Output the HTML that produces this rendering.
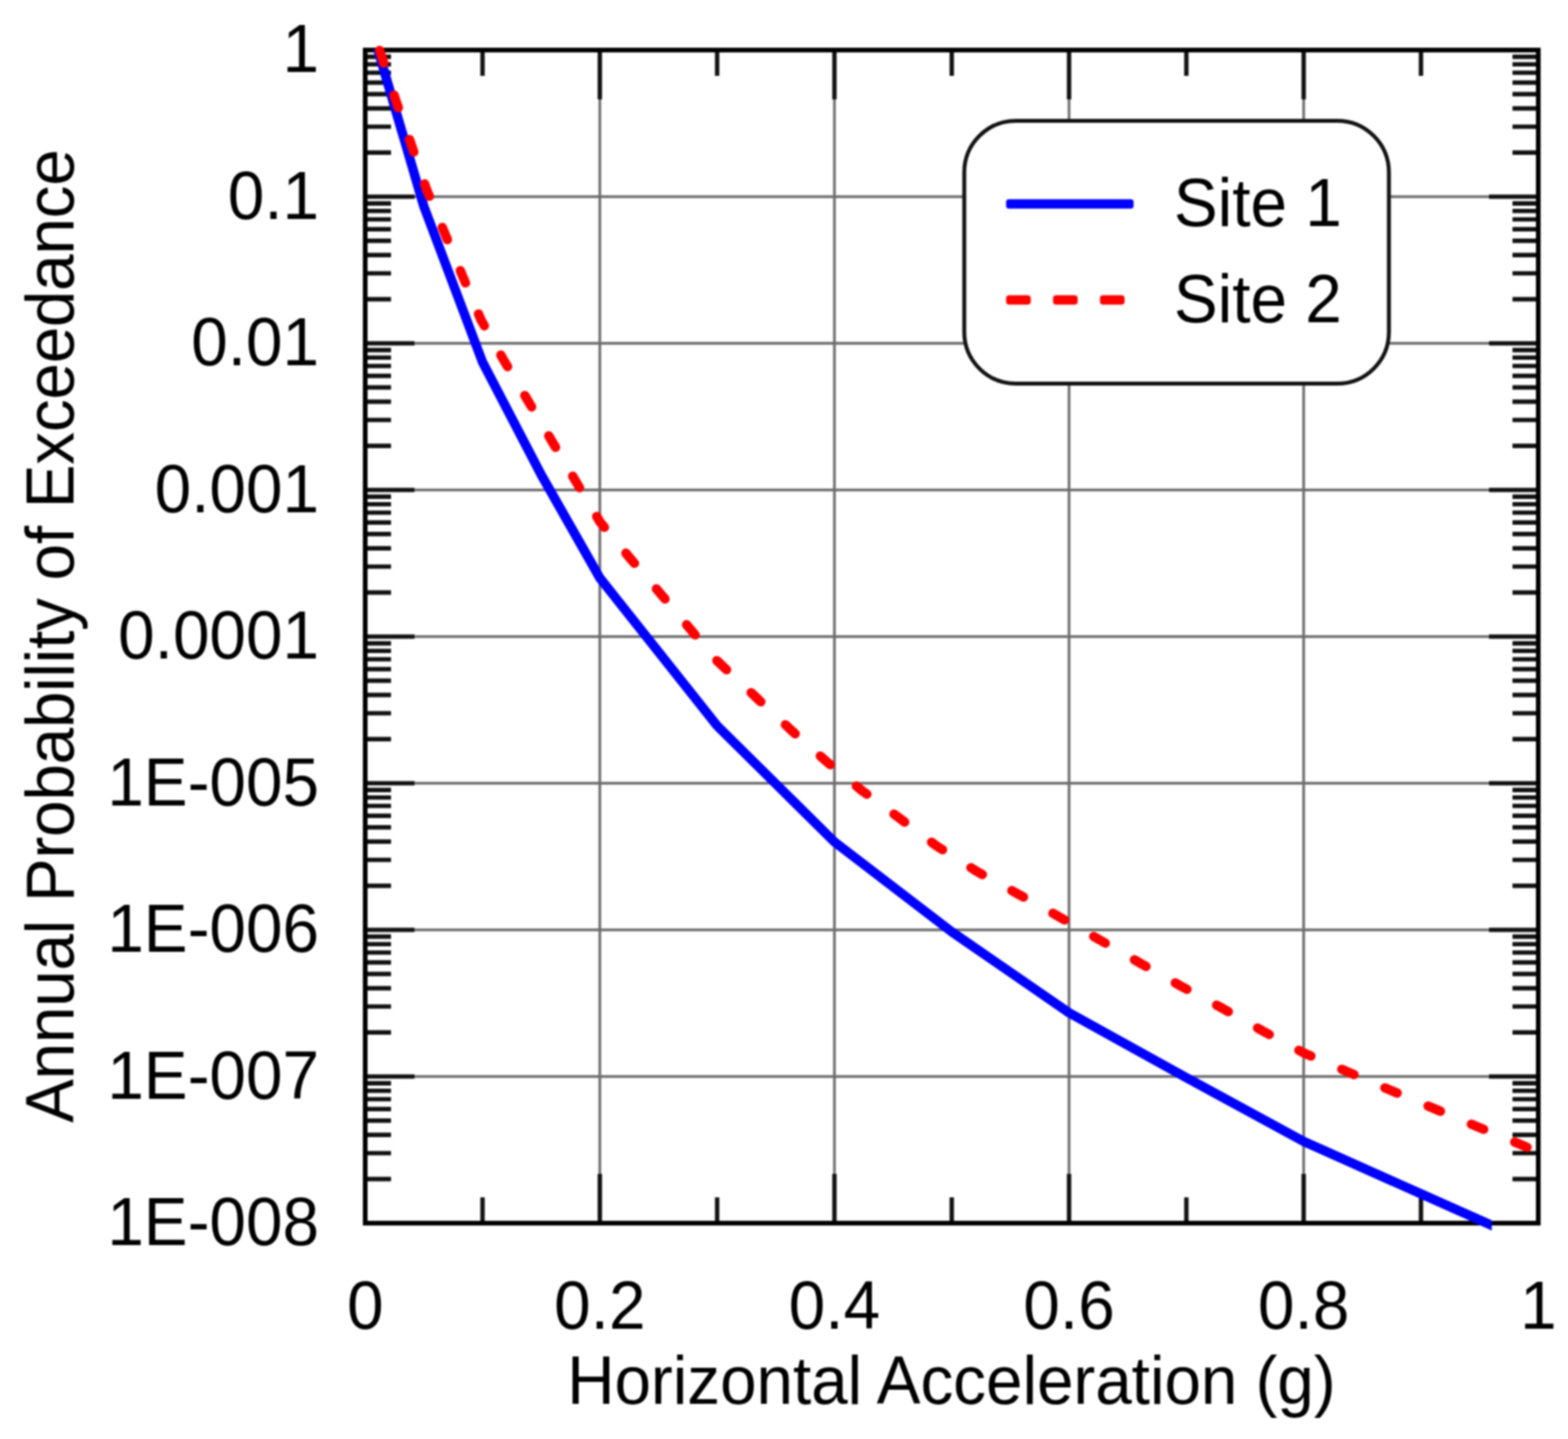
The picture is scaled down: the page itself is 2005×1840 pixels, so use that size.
<!DOCTYPE html>
<html lang="en">
<head>
<meta charset="utf-8">
<title>Annual Probability of Exceedance vs Horizontal Acceleration</title>
<style>
html,body{margin:0;padding:0;background:#fff;}
body{width:2005px;height:1840px;overflow:hidden;}
svg{display:block;}
text{font-family:"Liberation Sans",Arial,Helvetica,sans-serif;font-size:84px;fill:#000;}
.grid line{stroke:#6c6c6c;stroke-width:3.4;}
.tick line{stroke:#111;stroke-width:5.6;}
</style>
</head>
<body>
<svg width="2005" height="1840" viewBox="0 0 2005 1840">
<defs><filter id="soft" filterUnits="userSpaceOnUse" x="0" y="0" width="2005" height="1840" color-interpolation-filters="sRGB"><feGaussianBlur stdDeviation="0.9"/></filter></defs>
<rect x="0" y="0" width="2005" height="1840" fill="#fff"/>
<g filter="url(#soft)">
<rect x="0" y="0" width="2005" height="1840" fill="#fff"/>

<g class="grid">
<line x1="767.0" y1="64.0" x2="767.0" y2="1564.0"/>
<line x1="1067.0" y1="64.0" x2="1067.0" y2="1564.0"/>
<line x1="1367.0" y1="64.0" x2="1367.0" y2="1564.0"/>
<line x1="1667.0" y1="64.0" x2="1667.0" y2="1564.0"/>
<line x1="467.0" y1="251.5" x2="1967.0" y2="251.5"/>
<line x1="467.0" y1="439.0" x2="1967.0" y2="439.0"/>
<line x1="467.0" y1="626.5" x2="1967.0" y2="626.5"/>
<line x1="467.0" y1="814.0" x2="1967.0" y2="814.0"/>
<line x1="467.0" y1="1001.5" x2="1967.0" y2="1001.5"/>
<line x1="467.0" y1="1189.0" x2="1967.0" y2="1189.0"/>
<line x1="467.0" y1="1376.5" x2="1967.0" y2="1376.5"/>
</g>
<g class="tick">
<line x1="617.0" y1="64.0" x2="617.0" y2="97.0"/>
<line x1="617.0" y1="1564.0" x2="617.0" y2="1531.0"/>
<line x1="767.0" y1="64.0" x2="767.0" y2="127.0"/>
<line x1="767.0" y1="1564.0" x2="767.0" y2="1501.0"/>
<line x1="917.0" y1="64.0" x2="917.0" y2="97.0"/>
<line x1="917.0" y1="1564.0" x2="917.0" y2="1531.0"/>
<line x1="1067.0" y1="64.0" x2="1067.0" y2="127.0"/>
<line x1="1067.0" y1="1564.0" x2="1067.0" y2="1501.0"/>
<line x1="1217.0" y1="64.0" x2="1217.0" y2="97.0"/>
<line x1="1217.0" y1="1564.0" x2="1217.0" y2="1531.0"/>
<line x1="1367.0" y1="64.0" x2="1367.0" y2="127.0"/>
<line x1="1367.0" y1="1564.0" x2="1367.0" y2="1501.0"/>
<line x1="1517.0" y1="64.0" x2="1517.0" y2="97.0"/>
<line x1="1517.0" y1="1564.0" x2="1517.0" y2="1531.0"/>
<line x1="1667.0" y1="64.0" x2="1667.0" y2="127.0"/>
<line x1="1667.0" y1="1564.0" x2="1667.0" y2="1501.0"/>
<line x1="1817.0" y1="64.0" x2="1817.0" y2="97.0"/>
<line x1="1817.0" y1="1564.0" x2="1817.0" y2="1531.0"/>
<line x1="467.0" y1="195.1" x2="500.0" y2="195.1"/>
<line x1="1967.0" y1="195.1" x2="1934.0" y2="195.1"/>
<line x1="467.0" y1="162.0" x2="500.0" y2="162.0"/>
<line x1="1967.0" y1="162.0" x2="1934.0" y2="162.0"/>
<line x1="467.0" y1="138.6" x2="500.0" y2="138.6"/>
<line x1="1967.0" y1="138.6" x2="1934.0" y2="138.6"/>
<line x1="467.0" y1="120.4" x2="500.0" y2="120.4"/>
<line x1="1967.0" y1="120.4" x2="1934.0" y2="120.4"/>
<line x1="467.0" y1="105.6" x2="500.0" y2="105.6"/>
<line x1="1967.0" y1="105.6" x2="1934.0" y2="105.6"/>
<line x1="467.0" y1="93.0" x2="500.0" y2="93.0"/>
<line x1="1967.0" y1="93.0" x2="1934.0" y2="93.0"/>
<line x1="467.0" y1="82.2" x2="500.0" y2="82.2"/>
<line x1="1967.0" y1="82.2" x2="1934.0" y2="82.2"/>
<line x1="467.0" y1="72.6" x2="500.0" y2="72.6"/>
<line x1="1967.0" y1="72.6" x2="1934.0" y2="72.6"/>
<line x1="467.0" y1="251.5" x2="530.0" y2="251.5"/>
<line x1="1967.0" y1="251.5" x2="1904.0" y2="251.5"/>
<line x1="467.0" y1="382.6" x2="500.0" y2="382.6"/>
<line x1="1967.0" y1="382.6" x2="1934.0" y2="382.6"/>
<line x1="467.0" y1="349.5" x2="500.0" y2="349.5"/>
<line x1="1967.0" y1="349.5" x2="1934.0" y2="349.5"/>
<line x1="467.0" y1="326.1" x2="500.0" y2="326.1"/>
<line x1="1967.0" y1="326.1" x2="1934.0" y2="326.1"/>
<line x1="467.0" y1="307.9" x2="500.0" y2="307.9"/>
<line x1="1967.0" y1="307.9" x2="1934.0" y2="307.9"/>
<line x1="467.0" y1="293.1" x2="500.0" y2="293.1"/>
<line x1="1967.0" y1="293.1" x2="1934.0" y2="293.1"/>
<line x1="467.0" y1="280.5" x2="500.0" y2="280.5"/>
<line x1="1967.0" y1="280.5" x2="1934.0" y2="280.5"/>
<line x1="467.0" y1="269.7" x2="500.0" y2="269.7"/>
<line x1="1967.0" y1="269.7" x2="1934.0" y2="269.7"/>
<line x1="467.0" y1="260.1" x2="500.0" y2="260.1"/>
<line x1="1967.0" y1="260.1" x2="1934.0" y2="260.1"/>
<line x1="467.0" y1="439.0" x2="530.0" y2="439.0"/>
<line x1="1967.0" y1="439.0" x2="1904.0" y2="439.0"/>
<line x1="467.0" y1="570.1" x2="500.0" y2="570.1"/>
<line x1="1967.0" y1="570.1" x2="1934.0" y2="570.1"/>
<line x1="467.0" y1="537.0" x2="500.0" y2="537.0"/>
<line x1="1967.0" y1="537.0" x2="1934.0" y2="537.0"/>
<line x1="467.0" y1="513.6" x2="500.0" y2="513.6"/>
<line x1="1967.0" y1="513.6" x2="1934.0" y2="513.6"/>
<line x1="467.0" y1="495.4" x2="500.0" y2="495.4"/>
<line x1="1967.0" y1="495.4" x2="1934.0" y2="495.4"/>
<line x1="467.0" y1="480.6" x2="500.0" y2="480.6"/>
<line x1="1967.0" y1="480.6" x2="1934.0" y2="480.6"/>
<line x1="467.0" y1="468.0" x2="500.0" y2="468.0"/>
<line x1="1967.0" y1="468.0" x2="1934.0" y2="468.0"/>
<line x1="467.0" y1="457.2" x2="500.0" y2="457.2"/>
<line x1="1967.0" y1="457.2" x2="1934.0" y2="457.2"/>
<line x1="467.0" y1="447.6" x2="500.0" y2="447.6"/>
<line x1="1967.0" y1="447.6" x2="1934.0" y2="447.6"/>
<line x1="467.0" y1="626.5" x2="530.0" y2="626.5"/>
<line x1="1967.0" y1="626.5" x2="1904.0" y2="626.5"/>
<line x1="467.0" y1="757.6" x2="500.0" y2="757.6"/>
<line x1="1967.0" y1="757.6" x2="1934.0" y2="757.6"/>
<line x1="467.0" y1="724.5" x2="500.0" y2="724.5"/>
<line x1="1967.0" y1="724.5" x2="1934.0" y2="724.5"/>
<line x1="467.0" y1="701.1" x2="500.0" y2="701.1"/>
<line x1="1967.0" y1="701.1" x2="1934.0" y2="701.1"/>
<line x1="467.0" y1="682.9" x2="500.0" y2="682.9"/>
<line x1="1967.0" y1="682.9" x2="1934.0" y2="682.9"/>
<line x1="467.0" y1="668.1" x2="500.0" y2="668.1"/>
<line x1="1967.0" y1="668.1" x2="1934.0" y2="668.1"/>
<line x1="467.0" y1="655.5" x2="500.0" y2="655.5"/>
<line x1="1967.0" y1="655.5" x2="1934.0" y2="655.5"/>
<line x1="467.0" y1="644.7" x2="500.0" y2="644.7"/>
<line x1="1967.0" y1="644.7" x2="1934.0" y2="644.7"/>
<line x1="467.0" y1="635.1" x2="500.0" y2="635.1"/>
<line x1="1967.0" y1="635.1" x2="1934.0" y2="635.1"/>
<line x1="467.0" y1="814.0" x2="530.0" y2="814.0"/>
<line x1="1967.0" y1="814.0" x2="1904.0" y2="814.0"/>
<line x1="467.0" y1="945.1" x2="500.0" y2="945.1"/>
<line x1="1967.0" y1="945.1" x2="1934.0" y2="945.1"/>
<line x1="467.0" y1="912.0" x2="500.0" y2="912.0"/>
<line x1="1967.0" y1="912.0" x2="1934.0" y2="912.0"/>
<line x1="467.0" y1="888.6" x2="500.0" y2="888.6"/>
<line x1="1967.0" y1="888.6" x2="1934.0" y2="888.6"/>
<line x1="467.0" y1="870.4" x2="500.0" y2="870.4"/>
<line x1="1967.0" y1="870.4" x2="1934.0" y2="870.4"/>
<line x1="467.0" y1="855.6" x2="500.0" y2="855.6"/>
<line x1="1967.0" y1="855.6" x2="1934.0" y2="855.6"/>
<line x1="467.0" y1="843.0" x2="500.0" y2="843.0"/>
<line x1="1967.0" y1="843.0" x2="1934.0" y2="843.0"/>
<line x1="467.0" y1="832.2" x2="500.0" y2="832.2"/>
<line x1="1967.0" y1="832.2" x2="1934.0" y2="832.2"/>
<line x1="467.0" y1="822.6" x2="500.0" y2="822.6"/>
<line x1="1967.0" y1="822.6" x2="1934.0" y2="822.6"/>
<line x1="467.0" y1="1001.5" x2="530.0" y2="1001.5"/>
<line x1="1967.0" y1="1001.5" x2="1904.0" y2="1001.5"/>
<line x1="467.0" y1="1132.6" x2="500.0" y2="1132.6"/>
<line x1="1967.0" y1="1132.6" x2="1934.0" y2="1132.6"/>
<line x1="467.0" y1="1099.5" x2="500.0" y2="1099.5"/>
<line x1="1967.0" y1="1099.5" x2="1934.0" y2="1099.5"/>
<line x1="467.0" y1="1076.1" x2="500.0" y2="1076.1"/>
<line x1="1967.0" y1="1076.1" x2="1934.0" y2="1076.1"/>
<line x1="467.0" y1="1057.9" x2="500.0" y2="1057.9"/>
<line x1="1967.0" y1="1057.9" x2="1934.0" y2="1057.9"/>
<line x1="467.0" y1="1043.1" x2="500.0" y2="1043.1"/>
<line x1="1967.0" y1="1043.1" x2="1934.0" y2="1043.1"/>
<line x1="467.0" y1="1030.5" x2="500.0" y2="1030.5"/>
<line x1="1967.0" y1="1030.5" x2="1934.0" y2="1030.5"/>
<line x1="467.0" y1="1019.7" x2="500.0" y2="1019.7"/>
<line x1="1967.0" y1="1019.7" x2="1934.0" y2="1019.7"/>
<line x1="467.0" y1="1010.1" x2="500.0" y2="1010.1"/>
<line x1="1967.0" y1="1010.1" x2="1934.0" y2="1010.1"/>
<line x1="467.0" y1="1189.0" x2="530.0" y2="1189.0"/>
<line x1="1967.0" y1="1189.0" x2="1904.0" y2="1189.0"/>
<line x1="467.0" y1="1320.1" x2="500.0" y2="1320.1"/>
<line x1="1967.0" y1="1320.1" x2="1934.0" y2="1320.1"/>
<line x1="467.0" y1="1287.0" x2="500.0" y2="1287.0"/>
<line x1="1967.0" y1="1287.0" x2="1934.0" y2="1287.0"/>
<line x1="467.0" y1="1263.6" x2="500.0" y2="1263.6"/>
<line x1="1967.0" y1="1263.6" x2="1934.0" y2="1263.6"/>
<line x1="467.0" y1="1245.4" x2="500.0" y2="1245.4"/>
<line x1="1967.0" y1="1245.4" x2="1934.0" y2="1245.4"/>
<line x1="467.0" y1="1230.6" x2="500.0" y2="1230.6"/>
<line x1="1967.0" y1="1230.6" x2="1934.0" y2="1230.6"/>
<line x1="467.0" y1="1218.0" x2="500.0" y2="1218.0"/>
<line x1="1967.0" y1="1218.0" x2="1934.0" y2="1218.0"/>
<line x1="467.0" y1="1207.2" x2="500.0" y2="1207.2"/>
<line x1="1967.0" y1="1207.2" x2="1934.0" y2="1207.2"/>
<line x1="467.0" y1="1197.6" x2="500.0" y2="1197.6"/>
<line x1="1967.0" y1="1197.6" x2="1934.0" y2="1197.6"/>
<line x1="467.0" y1="1376.5" x2="530.0" y2="1376.5"/>
<line x1="1967.0" y1="1376.5" x2="1904.0" y2="1376.5"/>
<line x1="467.0" y1="1507.6" x2="500.0" y2="1507.6"/>
<line x1="1967.0" y1="1507.6" x2="1934.0" y2="1507.6"/>
<line x1="467.0" y1="1474.5" x2="500.0" y2="1474.5"/>
<line x1="1967.0" y1="1474.5" x2="1934.0" y2="1474.5"/>
<line x1="467.0" y1="1451.1" x2="500.0" y2="1451.1"/>
<line x1="1967.0" y1="1451.1" x2="1934.0" y2="1451.1"/>
<line x1="467.0" y1="1432.9" x2="500.0" y2="1432.9"/>
<line x1="1967.0" y1="1432.9" x2="1934.0" y2="1432.9"/>
<line x1="467.0" y1="1418.1" x2="500.0" y2="1418.1"/>
<line x1="1967.0" y1="1418.1" x2="1934.0" y2="1418.1"/>
<line x1="467.0" y1="1405.5" x2="500.0" y2="1405.5"/>
<line x1="1967.0" y1="1405.5" x2="1934.0" y2="1405.5"/>
<line x1="467.0" y1="1394.7" x2="500.0" y2="1394.7"/>
<line x1="1967.0" y1="1394.7" x2="1934.0" y2="1394.7"/>
<line x1="467.0" y1="1385.1" x2="500.0" y2="1385.1"/>
<line x1="1967.0" y1="1385.1" x2="1934.0" y2="1385.1"/>
</g>
<rect x="467.0" y="64.0" width="1500.0" height="1500.0" fill="none" stroke="#000" stroke-width="6"/>
<clipPath id="bclip"><rect x="0" y="0" width="1907.5" height="1840"/></clipPath>
<polyline clip-path="url(#bclip)" points="482.8,62.0 542.0,264.0 617.0,463.0 692.0,607.0 767.0,739.0 917.0,928.0 1067.0,1076.5 1217.0,1191.5 1367.0,1295.0 1517.0,1378.0 1667.0,1459.5 1817.0,1526.5 1903.4,1565.0 1930.0,1576.9" fill="none" stroke="#0000ff" stroke-width="12" stroke-linejoin="round" stroke-linecap="butt"/>
<polyline points="484.6,61.7 506.3,129.1 526.3,186.1 545.4,242.2 568.7,298.3 591.5,353.0 615.0,408.9 644.3,460.9 675.2,512.6 705.7,564.1 736.7,616.3 767.2,667.4 806.0,714.1 845.2,759.8 883.5,805.4 917.0,845.0 966.1,891.0 1010.9,932.9 1055.2,972.3 1101.4,1010.3 1149.5,1045.7 1197.3,1081.5 1248.7,1114.1 1300.9,1142.7 1353.3,1171.7 1405.8,1201.6 1457.9,1231.5 1510.1,1260.9 1563.4,1289.4 1615.0,1318.5 1668.0,1346.8 1723.7,1370.7 1778.6,1394.3 1833.5,1417.4 1889.2,1440.7 1944.6,1463.5 1962.0,1471.0" fill="none" stroke="#ff0000" stroke-width="12" stroke-linejoin="round" stroke-linecap="round" stroke-dasharray="17 43" stroke-dashoffset="-3"/>
<rect x="1233" y="154.5" width="543" height="336" rx="66" ry="66" fill="#fff" stroke="#111" stroke-width="5"/>
<rect x="1286.5" y="254.8" width="163" height="12" rx="3.5" ry="3.5" fill="#0000ff"/>
<rect x="1286.5" y="377.5" width="31.5" height="12" rx="4" ry="4" fill="#ff0000"/><rect x="1346.5" y="377.5" width="31.5" height="12" rx="4" ry="4" fill="#ff0000"/><rect x="1406.5" y="377.5" width="31.5" height="12" rx="4" ry="4" fill="#ff0000"/>
<text transform="translate(1501 289) scale(1 1.04)">Site 1</text>
<text transform="translate(1501 412) scale(1 1.04)">Site 2</text>
<text transform="translate(408 92.3) scale(1 1.04)" text-anchor="end">1</text>
<text transform="translate(408 279.8) scale(1 1.04)" text-anchor="end">0.1</text>
<text transform="translate(408 467.3) scale(1 1.04)" text-anchor="end">0.01</text>
<text transform="translate(408 654.8) scale(1 1.04)" text-anchor="end">0.001</text>
<text transform="translate(408 842.3) scale(1 1.04)" text-anchor="end">0.0001</text>
<text transform="translate(408 1029.8) scale(1 1.04)" text-anchor="end">1E-005</text>
<text transform="translate(408 1217.3) scale(1 1.04)" text-anchor="end">1E-006</text>
<text transform="translate(408 1404.8) scale(1 1.04)" text-anchor="end">1E-007</text>
<text transform="translate(408 1592.3) scale(1 1.04)" text-anchor="end">1E-008</text>
<text transform="translate(467.0 1698.5) scale(1 1.04)" text-anchor="middle">0</text>
<text transform="translate(767.0 1698.5) scale(1 1.04)" text-anchor="middle">0.2</text>
<text transform="translate(1067.0 1698.5) scale(1 1.04)" text-anchor="middle">0.4</text>
<text transform="translate(1367.0 1698.5) scale(1 1.04)" text-anchor="middle">0.6</text>
<text transform="translate(1667.0 1698.5) scale(1 1.04)" text-anchor="middle">0.8</text>
<text transform="translate(1967.0 1698.5) scale(1 1.04)" text-anchor="middle">1</text>
<text transform="translate(1216.5 1794.5) scale(1 1.03)" text-anchor="middle" style="letter-spacing:-0.08px">Horizontal Acceleration (g)</text>
<text transform="translate(93.5 813.5) rotate(-90) scale(1 1.03)" text-anchor="middle" style="letter-spacing:-0.35px">Annual Probability of Exceedance</text>
</g>
</svg>
</body>
</html>
